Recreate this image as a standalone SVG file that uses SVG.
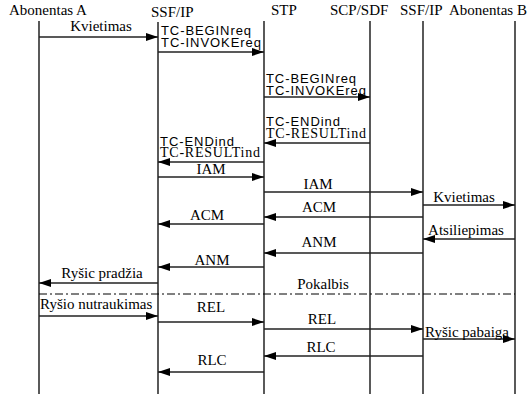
<svg xmlns="http://www.w3.org/2000/svg" width="527" height="394" viewBox="0 0 527 394">
<defs>
<marker id="ah" markerUnits="userSpaceOnUse" markerWidth="13" markerHeight="8" refX="12" refY="4" orient="auto">
<path d="M0,0 L12,4 L0,8 Z" fill="#000"/>
</marker>
<style>
.life{stroke:#000;stroke-width:1.3;fill:none}
.msg{stroke:#222;stroke-width:1.4;fill:none;marker-end:url(#ah)}
.t{font-family:"Liberation Serif","Times New Roman",serif;font-size:15px;fill:#000}
.s{font-family:"Liberation Sans",Arial,sans-serif;font-size:13px;fill:#000}
.r{font-family:"Liberation Serif","Times New Roman",serif;font-size:14px;fill:#000}
.m{text-anchor:middle}
.dd{stroke:#000;stroke-width:1;stroke-dasharray:8 3 2 3;fill:none}
</style>
</defs>
<rect width="527" height="394" fill="#fff"/>
<g id="abonentasA"><text class="t" x="9" y="15">Abonentas A</text><line class="life" x1="39" y1="21" x2="39" y2="394"/></g>
<g id="ssfip1"><text class="t" x="151" y="17">SSF/IP</text><line class="life" x1="158" y1="22" x2="158" y2="394"/></g>
<g id="stp"><text class="t" x="271" y="15">STP</text><line class="life" x1="264" y1="21" x2="264" y2="394"/></g>
<g id="scpsdf"><text class="t" x="330" y="15">SCP/SDF</text><line class="life" x1="370" y1="21" x2="370" y2="394"/></g>
<g id="ssfip2"><text class="t" x="400" y="15">SSF/IP</text><line class="life" x1="423" y1="21" x2="423" y2="394"/></g>
<g id="abonentasB"><text class="t" x="449" y="15">Abonentas B</text><line class="life" x1="515" y1="21" x2="515" y2="394"/></g>
<g id="connectors">
<line class="msg" x1="39" y1="37" x2="158" y2="37"/>
<line class="msg" x1="158" y1="52" x2="264" y2="52"/>
<line class="msg" x1="264" y1="97" x2="370" y2="97"/>
<line class="msg" x1="370" y1="143" x2="264" y2="143"/>
<line class="msg" x1="264" y1="162" x2="158" y2="162"/>
<line class="msg" x1="158" y1="177" x2="264" y2="177"/>
<line class="msg" x1="264" y1="192" x2="423" y2="192"/>
<line class="msg" x1="423" y1="205" x2="515" y2="205"/>
<line class="msg" x1="423" y1="217" x2="264" y2="217"/>
<line class="msg" x1="264" y1="224" x2="158" y2="224"/>
<line class="msg" x1="515" y1="239" x2="423" y2="239"/>
<line class="msg" x1="423" y1="253" x2="264" y2="253"/>
<line class="msg" x1="264" y1="267" x2="158" y2="267"/>
<line class="msg" x1="158" y1="283" x2="39" y2="283"/>
<line class="dd" x1="39" y1="294" x2="515" y2="294"/>
<line class="msg" x1="39" y1="316" x2="158" y2="316"/>
<line class="msg" x1="158" y1="322" x2="264" y2="322"/>
<line class="msg" x1="264" y1="329" x2="423" y2="329"/>
<line class="msg" x1="423" y1="339" x2="515" y2="339"/>
<line class="msg" x1="423" y1="356" x2="264" y2="356"/>
<line class="msg" x1="264" y1="372" x2="158" y2="372"/>
</g>
<g id="labels">
<text class="t m" x="101" y="31">Kvietimas</text>
<text class="s" x="161" y="35" textLength="90">TC-BEGINreq</text>
<text class="s" x="161" y="47" textLength="100">TC-INVOKEreq</text>
<text class="s" x="266" y="83" textLength="90">TC-BEGINreq</text>
<text class="s" x="266" y="95" textLength="100">TC-INVOKEreq</text>
<text class="s" x="266" y="126" textLength="74">TC-ENDind</text>
<text class="r" x="266" y="138" textLength="100">TC-RESULTind</text>
<text class="s" x="160" y="146" textLength="74">TC-ENDind</text>
<text class="r" x="160" y="157" textLength="100">TC-RESULTind</text>
<text class="t m" x="211" y="174">IAM</text>
<text class="t m" x="318" y="189">IAM</text>
<text class="t m" x="464" y="202">Kvietimas</text>
<text class="t m" x="319" y="212">ACM</text>
<text class="t m" x="207" y="220">ACM</text>
<text class="t m" x="466" y="235">Atsiliepimas</text>
<text class="t m" x="319" y="247">ANM</text>
<text class="t m" x="212" y="265">ANM</text>
<text class="t m" x="102" y="278">Ryšic pradžia</text>
<text class="t m" x="323" y="289">Pokalbis</text>
<text class="t" x="40" y="309">Ryšio nutraukimas</text>
<text class="t m" x="211" y="312">REL</text>
<text class="t m" x="322" y="324">REL</text>
<text class="t" x="425" y="337">Ryšic pabaiga</text>
<text class="t m" x="321" y="352">RLC</text>
<text class="t m" x="212" y="365">RLC</text>
</g>
</svg>
